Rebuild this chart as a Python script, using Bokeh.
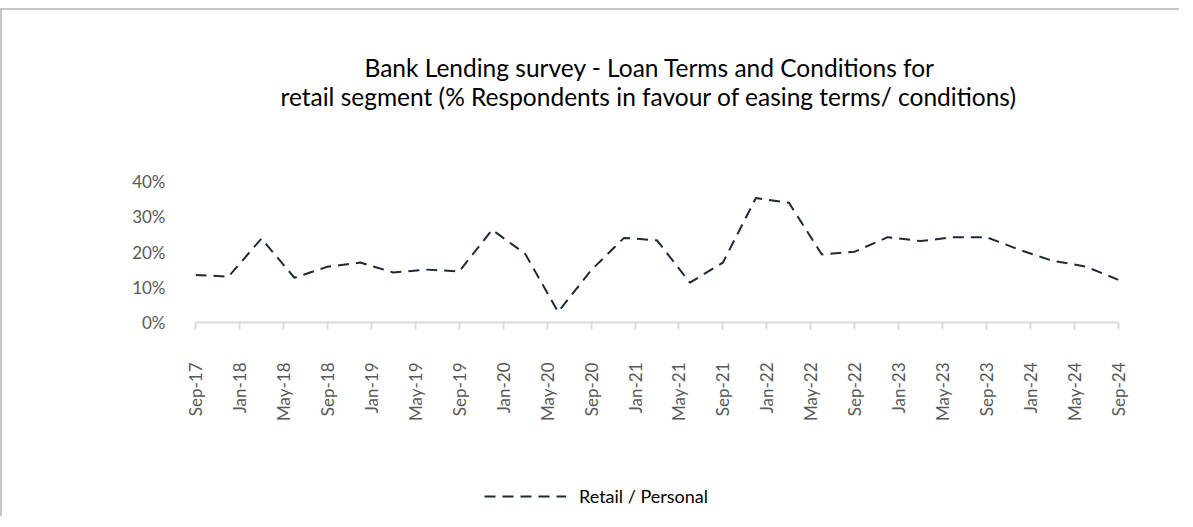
from bokeh.plotting import figure
from bokeh.models import (ColumnDataSource, FixedTicker, PrintfTickFormatter, Title,
                          Legend, LegendItem, Range1d)
from bokeh.layouts import column
from bokeh.embed import file_html
from bokeh.resources import INLINE
import math

# ---- data ----
quarters = ["2017-09", "2017-12", "2018-03", "2018-06", "2018-09", "2018-12",
            "2019-03", "2019-06", "2019-09", "2019-12", "2020-03", "2020-06",
            "2020-09", "2020-12", "2021-03", "2021-06", "2021-09", "2021-12",
            "2022-03", "2022-06", "2022-09", "2022-12", "2023-03", "2023-06",
            "2023-09", "2023-12", "2024-03", "2024-06", "2024-09"]
retail_personal = [13.5, 13.0, 23.8, 12.7, 15.8, 17.0, 14.2, 15.0, 14.5, 26.3,
                   19.5, 3.0, 14.8, 24.0, 23.3, 11.3, 17.0, 35.3, 34.0, 19.3,
                   20.1, 24.2, 23.1, 24.2, 24.2, 20.6, 17.5, 15.9, 12.1]
tick_labels = ["Sep-17", "Jan-18", "May-18", "Sep-18", "Jan-19", "May-19", "Sep-19",
               "Jan-20", "May-20", "Sep-20", "Jan-21", "May-21", "Sep-21", "Jan-22",
               "May-22", "Sep-22", "Jan-23", "May-23", "Sep-23", "Jan-24", "May-24",
               "Sep-24"]
y_ticks = [0, 10, 20, 30, 40]
title_lines = ["Bank Lending survey - Loan Terms and Conditions for",
               "retail segment (% Respondents in favour of easing terms/ conditions)"]
series_name = "Retail / Personal"

# month index relative to Sep-2017
def month_index(s):
    y, m = s.split("-")
    return (int(y) - 2017) * 12 + int(m) - 9

x_vals = [month_index(q) for q in quarters]
tick_pos = [i * 4 for i in range(len(tick_labels))]

FONT = "Lato"
LINE_COLOR = "#1e2a38"
BORDER = "2px solid #c6c6c6"

src = ColumnDataSource(data=dict(x=x_vals, y=retail_personal))

p = figure(frame_width=921, frame_height=139,
           x_range=Range1d(0, 84), y_range=Range1d(0, 40),
           output_backend="svg", toolbar_location=None,
           min_border_left=193, min_border_right=63,
           min_border_top=171, min_border_bottom=120,
           styles={"margin-top": "8px", "border-top": BORDER, "border-left": BORDER})
p.outline_line_color = None
p.grid.visible = False
p.background_fill_color = "white"
p.border_fill_color = "white"

r = p.line("x", "y", source=src, line_color=LINE_COLOR, line_width=2,
           line_dash="11 7")

# x axis
xa = p.xaxis[0]
xa.ticker = FixedTicker(ticks=tick_pos)
xa.major_label_overrides = {t: l for t, l in zip(tick_pos, tick_labels)}
xa.major_label_orientation = math.pi / 2
xa.axis_line_color = "#d9d9d9"
xa.axis_line_width = 2
xa.major_tick_line_color = "#d9d9d9"
xa.major_tick_line_width = 2
xa.major_tick_in = 0
xa.major_tick_out = 7
xa.minor_tick_line_color = None
xa.major_label_text_font = FONT
xa.major_label_text_font_size = "17px"
xa.major_label_text_color = "#595959"
xa.major_label_standoff = 33

# y axis
ya = p.yaxis[0]
ya.ticker = FixedTicker(ticks=y_ticks)
ya.formatter = PrintfTickFormatter(format="%d%%")
ya.axis_line_color = None
ya.major_tick_line_color = None
ya.minor_tick_line_color = None
ya.major_label_text_font = FONT
ya.major_label_text_font_size = "17px"
ya.major_label_text_color = "#595959"
ya.major_label_standoff = 24

# title (two lines), with an empty spacer between frame and title
top_spacer = Title(text=" ", standoff=60, text_font_size="10px")
t2 = Title(text=title_lines[1], align="left", offset=85, standoff=-4,
           text_font=FONT, text_font_size="24.5px", text_font_style="normal",
           text_color="#000000")
t1 = Title(text=title_lines[0], align="left", offset=169, standoff=0,
           text_font=FONT, text_font_size="24.5px", text_font_style="normal",
           text_color="#000000")
p.add_layout(top_spacer, "above")
p.add_layout(t2, "above")
p.add_layout(t1, "above")

# legend strip below the chart (its frame is aligned with the chart's frame)
pl = figure(width=1177, height=76, x_range=Range1d(1000, 1001),
            y_range=Range1d(1000, 1001), x_axis_type=None, y_axis_type=None,
            output_backend="svg", toolbar_location=None,
            min_border=0, styles={"border-left": BORDER})
pl.outline_line_color = None
pl.grid.visible = False
pl.background_fill_color = "white"
pl.border_fill_color = "white"
rl = pl.line("x", "y", source=src, line_color=LINE_COLOR, line_width=2,
             line_dash="11 7")
legend = Legend(items=[LegendItem(label=series_name, renderers=[rl])],
                location=(289, 9), orientation="horizontal",
                border_line_color=None, background_fill_alpha=0,
                padding=0, margin=0, glyph_width=82, glyph_height=20,
                label_height=20, label_standoff=13,
                label_text_font=FONT, label_text_font_size="18px",
                label_text_color="#000000")
pl.add_layout(legend, "center")

layout = column(p, pl, spacing=0)
open("out.html", "w").write(file_html(layout, INLINE))
